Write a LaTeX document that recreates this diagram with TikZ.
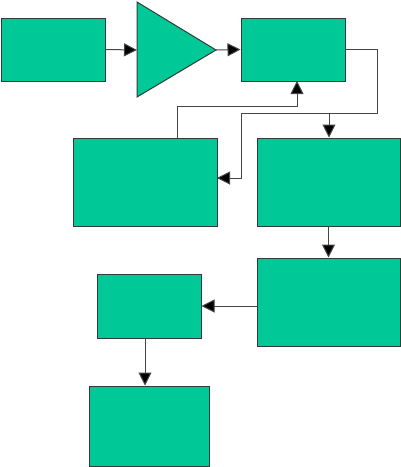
\documentclass[tikz,border=0pt]{standalone}
\usetikzlibrary{arrows.meta}
\definecolor{boxfill}{RGB}{0,200,150}
\definecolor{edge}{RGB}{50,60,55}
\definecolor{wire}{RGB}{70,70,70}
\begin{document}
\begin{tikzpicture}[x=1pt,y=-1pt,
  blk/.style={draw=edge,fill=boxfill,line width=1pt,inner sep=0pt,rectangle},
  conn/.style={draw=wire,line width=1pt},
  arr/.style={conn,-{Triangle[length=13pt,width=13pt,fill=black]}}]
\useasboundingbox (0,0) rectangle (401,467);
% boxes
\node[blk,minimum width=104pt,minimum height=63pt] (A) at (53,49.5) {};
\node[blk,minimum width=104pt,minimum height=63pt] (B) at (293,49.5) {};
\node[blk,minimum width=144pt,minimum height=88pt] (C) at (145,182) {};
\node[blk,minimum width=143pt,minimum height=88pt] (D) at (328.5,182) {};
\node[blk,minimum width=143pt,minimum height=88pt] (G) at (328.5,302) {};
\node[blk,minimum width=104pt,minimum height=64pt] (E) at (149,306) {};
\node[blk,minimum width=120pt,minimum height=80pt] (F) at (149,426) {};
% amplifier triangle
\coordinate (tin) at (137,50);
\coordinate (tout) at (216,50);
\draw[blk] (137,2) -- (216,50) -- (137,97) -- cycle;
% helper coordinates
\coordinate (r1) at (377,113);
\coordinate (l1) at (241,113);
\coordinate (cin) at (217,178);
\coordinate (cup) at (177,138);
\coordinate (fb) at (297,106);
\coordinate (bin) at (297,81);
\coordinate (br) at (329,113);
% connectors
\draw[arr] (A.east) -- (tin);
\draw[arr] (tout) -- (B.west);
\draw[conn] (B.east) -| (r1) -- (l1);
\draw[arr] (l1) |- (cin);
\draw[arr] (br) -- (br |- D.north);
\draw[arr] (cup) |- (fb) -- (bin);
\draw[arr] (D.south) -- (G.north);
\draw[arr] (G.west |- 0,306) -- (E.east);
\draw[arr] ([xshift=-4pt]E.south) -- ([xshift=-4pt]F.north);
\end{tikzpicture}
\end{document}
